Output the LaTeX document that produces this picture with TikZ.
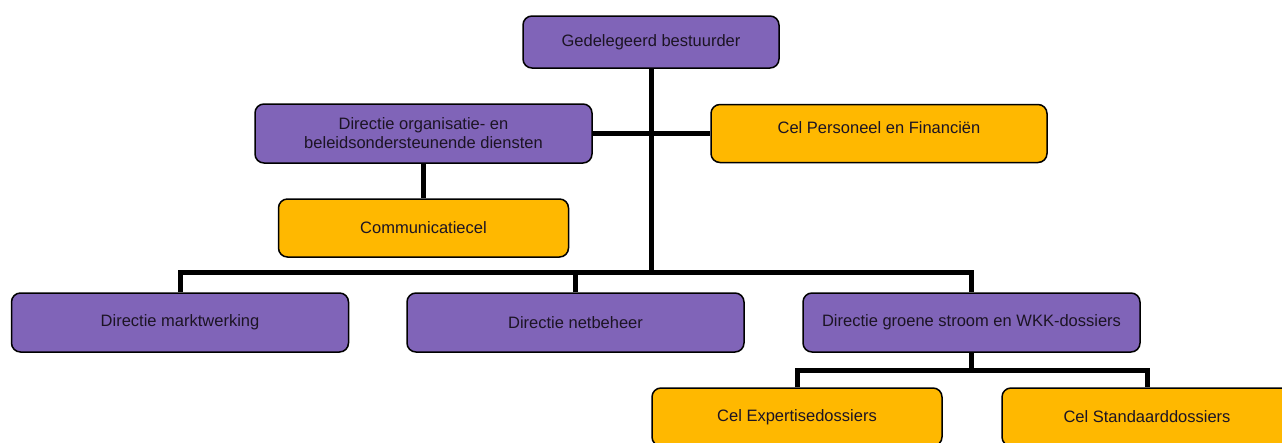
\documentclass[tikz,border=0pt]{standalone}
\usepackage{fontspec}
\setmainfont{Liberation Sans}
\definecolor{dirpurple}{RGB}{128,100,184}
\definecolor{celgold}{RGB}{255,184,0}
\definecolor{boxtext}{RGB}{28,20,36}
\begin{document}
\begin{tikzpicture}[x=1pt, y=-1pt,
  box/.style={draw=black, line width=1.5pt, rounded corners=9pt, inner sep=0pt,
    align=center, text=boxtext, font=\fontsize{16.5}{19}\selectfont},
  dir/.style={box, fill=dirpurple},
  cel/.style={box, fill=celgold},
  link/.style={line width=5pt}]
\useasboundingbox (0,0) rectangle (1282,442);
\clip (0,0) rectangle (1282,442);
\node [dir, minimum width=256pt, minimum height=52pt] (top) at (651,42) {Gedelegeerd bestuurder};
\node [dir, minimum width=337pt, minimum height=59pt] (org) at (423.5,133.5) {Directie organisatie- en\\beleidsondersteunende diensten};
\node [cel, minimum width=336pt, minimum height=58pt, text height=12pt, text depth=12pt] (pers) at (879,133.5) {Cel Personeel en Financiën};
\node [cel, minimum width=290pt, minimum height=58pt] (comm) at (423.5,228) {Communicatiecel};
\node [dir, minimum width=337pt, minimum height=59pt] (markt) at (180,322.5) {Directie marktwerking};
\node [dir, minimum width=337pt, minimum height=59pt] (netb) at (575.5,322.5) {Directie netbeheer};
\node [dir, minimum width=337pt, minimum height=59pt] (groene) at (971.5,322.5) {Directie groene stroom en WKK-dossiers};
\node [cel, minimum width=290pt, minimum height=58pt] (expert) at (797,417) {Cel Expertisedossiers};
\node [cel, minimum width=290pt, minimum height=58pt] (stand) at (1147,417) {Cel Standaarddossiers};
\coordinate (trunk) at (651,272);
\coordinate (split) at (971.5,370);
\draw [link] (top.south) -- (trunk);
\draw [link] (org.east) -- (pers.west);
\draw [link] (org.south) -- (comm.north);
\draw [link] (markt.north) |- (trunk) -| (groene.north);
\draw [link] (netb.north) -- (netb.north |- trunk);
\draw [link] (groene.south) -- (split);
\draw [link] (expert.north) |- (split) -| (stand.north);
\end{tikzpicture}
\end{document}
